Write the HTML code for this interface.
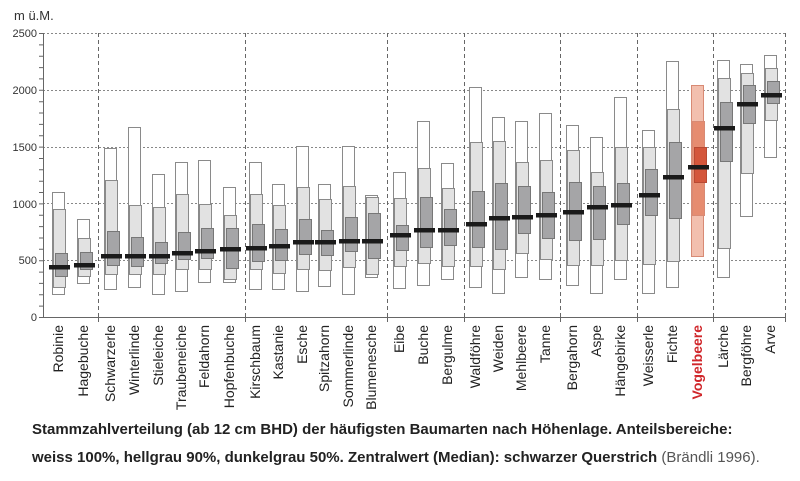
<!DOCTYPE html>
<html><head><meta charset="utf-8"><style>
body{margin:0;background:#fff;width:800px;height:481px;overflow:hidden;font-family:"Liberation Sans",sans-serif}
.cap{position:absolute;left:32px;font:bold 15px "Liberation Sans",sans-serif;color:#222;white-space:nowrap}
</style></head><body>
<svg width="800" height="481" style="position:absolute;left:0;top:0" font-family="Liberation Sans, sans-serif">
<text x="14" y="20" font-size="13" fill="#333">m ü.M.</text>
<g font-size="11" fill="#333" text-anchor="end">
<text x="37" y="37">2500</text><text x="37" y="94">2000</text><text x="37" y="151">1500</text><text x="37" y="208">1000</text><text x="37" y="264">500</text><text x="37" y="321">0</text>
</g>
<g stroke="#888" stroke-dasharray="2,2" stroke-width="1">
<line x1="43" y1="33.5" x2="786" y2="33.5"/><line x1="43" y1="90.5" x2="786" y2="90.5"/><line x1="43" y1="147.5" x2="786" y2="147.5"/><line x1="43" y1="203.5" x2="786" y2="203.5"/><line x1="43" y1="260.5" x2="786" y2="260.5"/>
</g>
<g stroke="#666" stroke-dasharray="4,3" stroke-width="1">
<line x1="98.5" y1="33" x2="98.5" y2="317"/><line x1="245.5" y1="33" x2="245.5" y2="317"/><line x1="387.5" y1="33" x2="387.5" y2="317"/><line x1="464.5" y1="33" x2="464.5" y2="317"/><line x1="560.5" y1="33" x2="560.5" y2="317"/><line x1="637.5" y1="33" x2="637.5" y2="317"/><line x1="713.5" y1="33" x2="713.5" y2="317"/><line x1="785.5" y1="33" x2="785.5" y2="317"/>
</g>
<g stroke="#666" stroke-width="1">
<line x1="43.5" y1="33" x2="43.5" y2="318"/><line x1="43" y1="317.5" x2="786" y2="317.5"/>
<path id="ticks" d=""/>
</g>
<g id="boxes"></g>
<g id="labels" font-size="14" fill="#222"></g>
</svg>
<div class="cap" style="top:421px">Stammzahlverteilung (ab 12 cm BHD) der häufigsten Baumarten nach Höhenlage. Anteilsbereiche:</div>
<div class="cap" style="top:449px">weiss 100%, hellgrau 90%, dunkelgrau 50%. Zentralwert (Median): schwarzer Querstrich <span style="font-weight:normal;color:#555">(Brändli 1996).</span></div>
<script>
var d=[
["Robinie",52,192,294,209,287,253,276,267],
["Hagebuche",77,219,283,238,276,252,269,265],
["Schwarzerle",104,148,289,180,274,231,265,256],
["Winterlinde",128,127,287,205,274,237,266,256],
["Stieleiche",152,174,294,207,274,242,263,256],
["Traubeneiche",175,162,291,194,269,232,259,253],
["Feldahorn",198,160,282,204,269,228,258,251],
["Hopfenbuche",223,187,282,215,279,228,268,249],
["Kirschbaum",249,162,289,194,269,224,261,248],
["Kastanie",272,184,289,205,273,229,260,246],
["Esche",296,146,291,187,269,219,254,242],
["Spitzahorn",318,184,286,199,270,230,255,242],
["Sommerlinde",342,146,294,186,267,217,251,241],
["Blumenesche",365,195,277,197,274,213,258,241],
["Eibe",393,172,288,198,266,225,250,235],
["Buche",417,121,285,168,263,197,247,230],
["Bergulme",441,163,279,188,266,209,245,230],
["Waldföhre",469,87,287,142,266,191,247,224],
["Weiden",492,117,293,141,269,183,249,218],
["Mehlbeere",515,121,277,162,253,186,233,217],
["Tanne",539,113,279,160,259,192,238,215],
["Bergahorn",566,125,285,150,265,182,240,212],
["Aspe",590,137,293,172,265,186,239,207],
["Hängebirke",614,97,279,147,260,183,224,205],
["Weisserle",642,130,293,147,264,169,215,195],
["Fichte",666,61,287,109,261,142,218,177],
["Vogelbeere",691,85,256,121,215,147,182,167],
["Lärche",717,60,277,78,248,102,161,128],
["Bergföhre",740,64,216,73,173,85,123,104],
["Arve",764,55,157,68,120,81,103,95]];
var s="",l="",t="";
for(var v=0;v<=2500;v+=100){var y=317.5-v*0.1136;t+="M39 "+y.toFixed(1)+"H43";}
[98.5,245.5,387.5,464.5,560.5,637.5,713.5,785.5].forEach(function(x){t+="M"+x+" 317V322";});
document.getElementById("ticks").setAttribute("d",t);
d.forEach(function(r){var x=r[1],red=r[0]=="Vogelbeere";
var c1=red?"#f2bfae":"#fff",c2=red?"#e68c70":"#e2e2e2",c3=red?"#d4563b":"#a5a5a7",st=red?"#d88a74":"#8a8a8a";
s+='<rect x="'+(x+.5)+'" y="'+r[2]+'.5" width="12" height="'+(r[3]-r[2])+'" fill="'+c1+'" stroke="'+st+'"/>';
s+='<rect x="'+(x+1.5)+'" y="'+r[4]+'.5" width="12" height="'+(r[5]-r[4])+'" fill="'+c2+'" stroke="'+st+'"/>';
s+='<rect x="'+(x+3.5)+'" y="'+r[6]+'.5" width="12" height="'+(r[7]-r[6])+'" fill="'+c3+'" stroke="'+(red?"#b84a33":"#777")+'"/>';
s+='<rect x="'+(x-3)+'" y="'+(r[8]-2)+'" width="21" height="4.5" fill="#1a1a1a"/>';
var cx=x+11;
l+='<text transform="translate('+cx+',325) rotate(-90)" text-anchor="end"'+(red?' fill="#d0262a" font-weight="bold"':'')+'>'+r[0]+'</text>';
});
document.getElementById("boxes").innerHTML=s;
document.getElementById("labels").innerHTML=l;
</script>
</body></html>
